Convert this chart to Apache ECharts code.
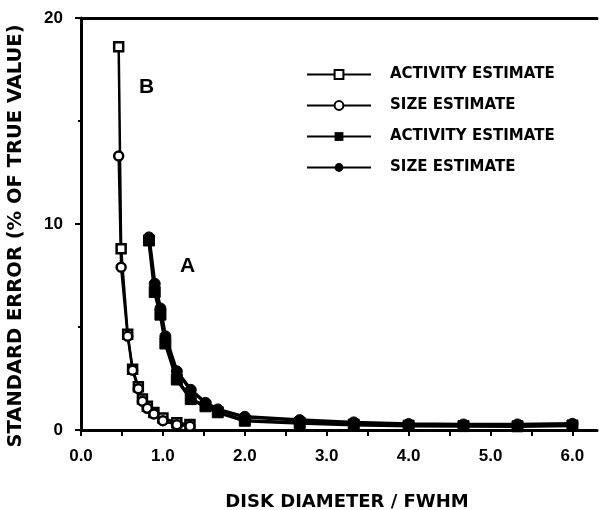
<!DOCTYPE html>
<html>
<head>
<meta charset="utf-8">
<script src="https://cdn.jsdelivr.net/npm/echarts@6/dist/echarts.min.js"></script>
<style>
  html, body { margin: 0; padding: 0; background: #fff; }
  #chart { width: 599px; height: 510px; }
</style>
</head>
<body>
<div id="chart"></div>
<script>
// curve B (open markers)
const xB = [0.46, 0.49, 0.57, 0.63, 0.70, 0.75, 0.81, 0.89, 1.00, 1.17, 1.33];
const activityB = [18.6, 8.8, 4.65, 2.95, 2.10, 1.50, 1.15, 0.85, 0.58, 0.35, 0.27];
const sizeB = [13.3, 7.9, 4.55, 2.90, 2.00, 1.40, 1.05, 0.78, 0.45, 0.25, 0.18];

// curve A (filled markers)
const xA = [0.83, 0.90, 0.97, 1.03, 1.17, 1.34, 1.52, 1.67, 2.00, 2.67, 3.33, 4.00, 4.67, 5.33, 6.00];
const activityA = [9.2, 6.7, 5.6, 4.2, 2.45, 1.5, 1.15, 0.86, 0.45, 0.34, 0.26, 0.21, 0.19, 0.18, 0.22];
const sizeA = [9.35, 7.1, 5.9, 4.55, 2.85, 1.95, 1.32, 1.0, 0.64, 0.48, 0.37, 0.29, 0.27, 0.27, 0.30];

const xTicks = [0, 0.5, 1, 1.5, 2, 2.5, 3, 3.5, 4, 4.5, 5, 5.5, 6];
const xLabels = [0, 1, 2, 3, 4, 5, 6];
const legendText = {
    actB: 'ACTIVITY ESTIMATE',
    sizeB: 'SIZE ESTIMATE',
    actA: 'ACTIVITY ESTIMATE',
    sizeA: 'SIZE ESTIMATE'
};

const pairs = (xs, ys) => xs.map((x, i) => [x, ys[i]]);
const FONT = 'Liberation Sans';
const WIDE = 'DejaVu Sans';

const chart = echarts.init(document.getElementById('chart'));
const option = {
    animation: false,
    grid: { left: 81, right: 2, top: 18, bottom: 80, outerBoundsMode: 'none' },
    legend: {
        orient: 'vertical',
        left: 301,
        top: 62,
        itemWidth: 64,
        itemHeight: 11,
        itemGap: 16,
        data: ['actB', 'sizeB', 'actA', 'sizeA'],
        formatter: (name) => legendText[name],
        textStyle: {
            fontFamily: WIDE, fontWeight: 'bold', fontSize: 15, color: '#000',
            padding: [0, 0, 0, 14]
        }
    },
    graphic: [
        { type: 'text', left: 139, top: 77, style: { text: 'B', font: 'bold 21px "Liberation Sans"', fill: '#000' } },
        { type: 'text', left: 180, top: 256, style: { text: 'A', font: 'bold 21px "Liberation Sans"', fill: '#000' } }
    ],
    xAxis: [
        {
            type: 'value',
            min: 0,
            max: 6.3,
            interval: 1,
            name: 'DISK DIAMETER / FWHM',
            nameLocation: 'middle',
            nameGap: 63,
            nameTextStyle: {
                fontFamily: WIDE, fontWeight: 'bold', fontSize: 18, color: '#000',
                padding: [0, 0, 0, 16]
            },
            axisLine: { lineStyle: { color: '#000', width: 3 } },
            axisTick: { customValues: xTicks, length: 6, lineStyle: { color: '#000', width: 2 } },
            axisLabel: {
                customValues: xLabels,
                margin: 18,
                formatter: (v) => v.toFixed(1),
                fontFamily: FONT, fontWeight: 'bold', fontSize: 17, color: '#000'
            },
            splitLine: { show: false }
        },
        {
            type: 'value',
            position: 'top',
            min: 0,
            max: 6.3,
            axisLine: { show: true, lineStyle: { color: '#000', width: 3 } },
            axisTick: { show: false },
            axisLabel: { show: false },
            splitLine: { show: false }
        }
    ],
    yAxis: {
        type: 'value',
        min: 0,
        max: 20,
        interval: 10,
        name: 'STANDARD ERROR (% OF TRUE VALUE)',
        nameLocation: 'middle',
        nameGap: 55,
        nameTextStyle: {
            fontFamily: WIDE, fontWeight: 'bold', fontSize: 19.5, color: '#000',
            padding: [0, 24, 0, 0]
        },
        axisLine: { show: true, lineStyle: { color: '#000', width: 3 } },
        axisTick: { length: 6, lineStyle: { color: '#000', width: 2 } },
        minorTick: { show: true, splitNumber: 2, length: 3, lineStyle: { color: '#000', width: 2 } },
        axisLabel: { margin: 18, fontFamily: FONT, fontWeight: 'bold', fontSize: 17, color: '#000' },
        splitLine: { show: false }
    },
    series: [
        {
            name: 'actB', type: 'line', data: pairs(xB, activityB),
            symbol: 'rect', symbolSize: 9,
            lineStyle: { color: '#000', width: 2.5 },
            itemStyle: { color: '#fff', borderColor: '#000', borderWidth: 2.5 }
        },
        {
            name: 'sizeB', type: 'line', data: pairs(xB, sizeB),
            symbol: 'circle', symbolSize: 9,
            lineStyle: { color: '#000', width: 2.5 },
            itemStyle: { color: '#fff', borderColor: '#000', borderWidth: 2.5 }
        },
        {
            name: 'actA', type: 'line', data: pairs(xA, activityA),
            symbol: 'rect', symbolSize: 11,
            lineStyle: { color: '#000', width: 3.5 },
            itemStyle: { color: '#000', borderColor: '#000' }
        },
        {
            name: 'sizeA', type: 'line', data: pairs(xA, sizeA),
            symbol: 'circle', symbolSize: 11,
            lineStyle: { color: '#000', width: 3.5 },
            itemStyle: { color: '#000', borderColor: '#000' }
        }
    ]
};
chart.setOption(option);
window.addEventListener('resize', () => {
    chart.resize();
});
</script>
</body>
</html>
